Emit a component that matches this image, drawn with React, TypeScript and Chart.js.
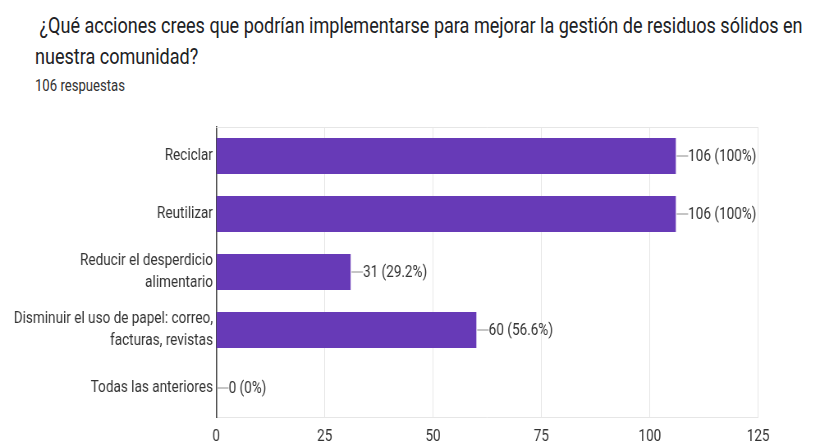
import React, { useEffect, useRef } from "react";
import { Chart, registerables } from "chart.js";

Chart.register(...registerables);

const TITLE_LINE_1 = " ¿Qué acciones crees que podrían implementarse para mejorar la gestión de residuos sólidos en";
const TITLE_LINE_2 = "nuestra comunidad?";
const SUBTITLE = "106 respuestas";

const categories: (string | string[])[] = [
  "Reciclar",
  "Reutilizar",
  ["Reducir el desperdicio", "alimentario"],
  ["Disminuir el uso de papel: correo,", "facturas, revistas"],
  "Todas las anteriores",
];
const counts = [106, 106, 31, 60, 0];
const percents = ["100%", "100%", "29.2%", "56.6%", "0%"];
const xTicks = [0, 25, 50, 75, 100, 125];

const SX = 0.82; // horizontal condensation of the whole picture
const W = 814 / SX;

export default function App() {
  const ref = useRef<HTMLCanvasElement>(null);
  useEffect(() => {
    document.body.style.margin = "0";
    const canvas = ref.current!;
    const font = "Roboto";
    const labelPlugin = {
      id: "valueLabels",
      afterDatasetsDraw(chart: any) {
        const ctx = chart.ctx;
        const meta = chart.getDatasetMeta(0);
        ctx.save();
        meta.data.forEach((bar: any, i: number) => {
          const x = bar.x;
          const y = bar.y;
          ctx.strokeStyle = "#9e9e9e";
          ctx.lineWidth = 1.2;
          ctx.beginPath();
          ctx.moveTo(x + 1, y);
          ctx.lineTo(x + 15, y);
          ctx.stroke();
          ctx.fillStyle = "#333333";
          ctx.font = `16.5px ${font}`;
          ctx.textAlign = "left";
          ctx.textBaseline = "middle";
          ctx.fillText(`${counts[i]} (${percents[i]})`, x + 15, y + 1);
        });
        ctx.restore();
      },
      beforeDatasetsDraw(chart: any) {
        const { ctx, chartArea } = chart;
        ctx.save();
        ctx.strokeStyle = "#e6e6e6";
        ctx.lineWidth = 1;
        ctx.beginPath();
        ctx.moveTo(chartArea.left, chartArea.top + 0.5);
        ctx.lineTo(chartArea.right, chartArea.top + 0.5);
        ctx.stroke();
        ctx.restore();
      },
    };
    const chart = new Chart(canvas, {
      type: "bar",
      data: {
        labels: categories,
        datasets: [
          {
            data: counts,
            backgroundColor: "#673ab7",
            borderWidth: 0,
            barPercentage: 0.62,
            categoryPercentage: 1,
          },
        ],
      },
      options: {
        indexAxis: "y",
        animation: false,
        responsive: false,
        maintainAspectRatio: false,
        layout: { padding: { top: 27, right: W - 758 / SX, bottom: 0, left: 0 } },
        plugins: { legend: { display: false }, tooltip: { enabled: false } },
        scales: {
          x: {
            min: 0,
            max: 125,
            afterBuildTicks(scale: any) {
              scale.ticks = xTicks.map((v) => ({ value: v }));
            },
            afterFit(scale: any) {
              scale.height = 27;
            },
            grid: { color: "#e6e6e6", drawTicks: false },
            border: { color: "#e6e6e6" },
            ticks: {
              padding: 10,
              color: "#333333",
              font: { family: font, size: 16.5 },
            },
          },
          y: {
            afterFit(scale: any) {
              scale.width = 216 / SX;
            },
            grid: { display: false, drawTicks: false },
            border: { color: "#444444", width: 1.6 },
            ticks: {
              padding: 4,
              color: "#333333",
              font: { family: font, size: 16.5, lineHeight: 1.3 },
            },
          },
        },
      },
      plugins: [labelPlugin],
    });
    return () => chart.destroy();
  }, []);

  return (
    <div style={{ position: "relative", width: 814, height: 444, overflow: "hidden", background: "#fff" }}>
      <div
        style={{
          position: "absolute",
          left: 35,
          top: 10,
          fontFamily: "Roboto",
          fontSize: 22,
          color: "#202124",
          lineHeight: "31px",
          whiteSpace: "pre",
          transform: `scaleX(${SX})`,
          transformOrigin: "0 0",
        }}
      >
        <div>{TITLE_LINE_1}</div>
        <div>{TITLE_LINE_2}</div>
      </div>
      <div
        style={{
          position: "absolute",
          left: 35,
          top: 76,
          fontFamily: "Roboto",
          fontSize: 16,
          color: "#333333",
          whiteSpace: "pre",
          transform: `scaleX(${SX})`,
          transformOrigin: "0 0",
        }}
      >
        {SUBTITLE}
      </div>
      <div
        style={{
          position: "absolute",
          left: 0,
          top: 100,
          width: W,
          height: 344,
          transform: `scaleX(${SX})`,
          transformOrigin: "0 0",
        }}
      >
        <canvas ref={ref} width={W} height={344} style={{ width: W, height: 344 }} />
      </div>
    </div>
  );
}
